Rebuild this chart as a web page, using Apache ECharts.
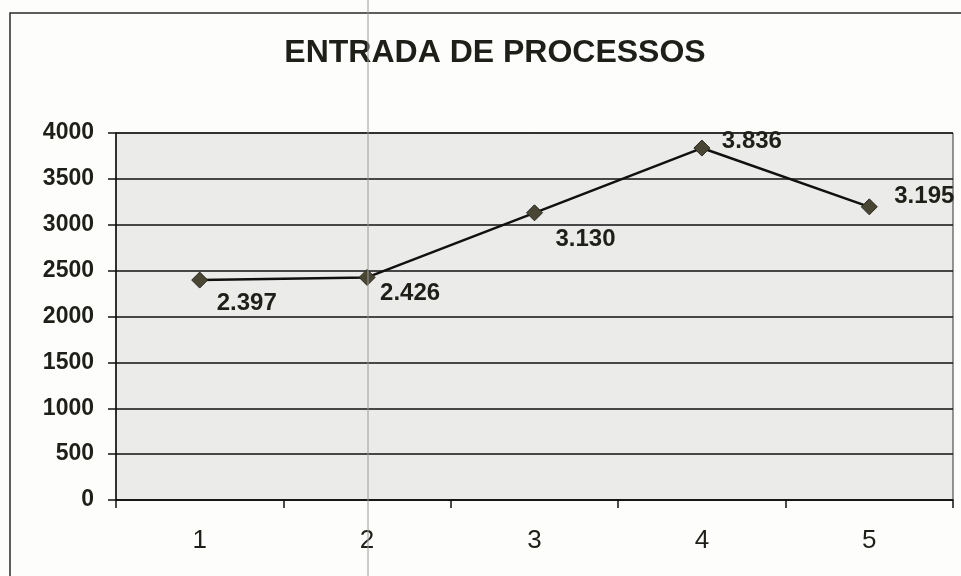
<!DOCTYPE html>
<html>
<head>
<meta charset="utf-8">
<script src="https://cdn.jsdelivr.net/npm/echarts@6/dist/echarts.min.js"></script>
<style>
html,body{margin:0;padding:0;background:#fdfdfb;}
#c{width:961px;height:576px;}
</style>
</head>
<body>
<div id="c"></div>
<script>
const titleText = 'ENTRADA DE PROCESSOS';
const categories = ['1', '2', '3', '4', '5'];
const values = [2397, 2426, 3130, 3836, 3195];
const yTicks = { min: 0, max: 4000, interval: 500 };

const labelOffsets = [[47, 23], [43, 16], [51, 27], [50, -7], [55, -10]];

function fmt(v) {
  return String(v).replace(/\B(?=(\d{3})+(?!\d))/g, '.');
}

const chart = echarts.init(document.getElementById('c'), null, { renderer: 'canvas' });
chart.setOption({
  backgroundColor: '#fdfdfb',
  animation: false,
  title: {
    text: titleText,
    left: 490, top: 32, textAlign: 'center',
    textStyle: { fontFamily: '"Liberation Sans", Arial, sans-serif', fontWeight: 'bold', fontSize: 32, color: '#1f1f1a' }
  },
  graphic: [
    { type: 'rect', shape: { x: 10, y: 13, width: 1000, height: 700 }, style: { fill: null, stroke: '#2a2a2a', lineWidth: 1.5 }, z: 0 },
    { type: 'line', shape: { x1: 368, y1: 0, x2: 368, y2: 576 }, style: { stroke: '#9a9a9a', lineWidth: 1 }, z: 10 }
  ],
  grid: { left: 116, right: 8, top: 133, bottom: 76, show: true, backgroundColor: '#ebebe9', borderColor: '#333', borderWidth: 1 },
  xAxis: {
    type: 'category',
    data: categories,
    boundaryGap: true,
    axisLine: { lineStyle: { color: '#111', width: 1.5 } },
    axisTick: { show: true, length: 8, lineStyle: { color: '#111', width: 1.5 } },
    axisLabel: { margin: 28, fontFamily: '"Liberation Sans", Arial, sans-serif', fontSize: 26, color: '#1f1f1a' },
    splitLine: { show: false }
  },
  yAxis: {
    type: 'value',
    min: yTicks.min, max: yTicks.max, interval: yTicks.interval,
    axisLine: { show: true, lineStyle: { color: '#111', width: 1.5 } },
    axisTick: { show: true, length: 8, lineStyle: { color: '#111', width: 1.5 } },
    axisLabel: { margin: 22, formatter: v => String(v), fontFamily: '"Liberation Sans", Arial, sans-serif', fontWeight: 'bold', fontSize: 23, color: '#1f1f1a' },
    splitLine: { show: true, lineStyle: { color: '#111', width: 1.5 } }
  },
  series: [{
    type: 'line',
    data: values.map((v, i) => ({
      value: v,
      label: { offset: labelOffsets[i] }
    })),
    symbol: 'diamond',
    symbolSize: 16,
    itemStyle: { color: '#4a4634', borderColor: '#2a281e', borderWidth: 1 },
    lineStyle: { color: '#111', width: 2.5 },
    label: {
      show: true,
      position: 'inside',
      formatter: p => fmt(p.value),
      fontFamily: '"Liberation Sans", Arial, sans-serif',
      fontWeight: 'bold',
      fontSize: 24,
      color: '#1f1f1a'
    },
    z: 5
  }]
});
</script>
</body>
</html>
